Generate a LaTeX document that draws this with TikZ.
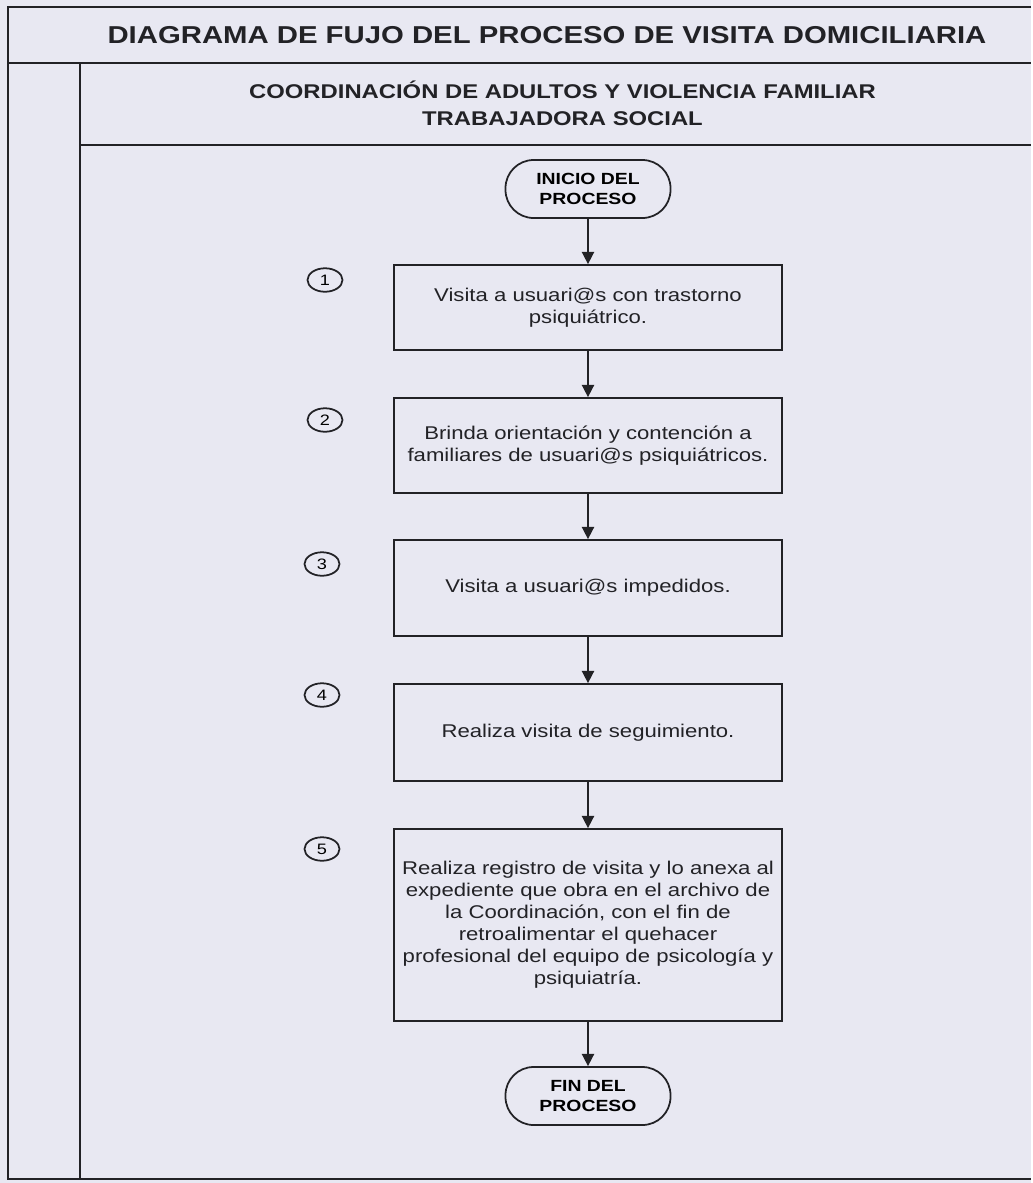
\documentclass[tikz,border=0pt]{standalone}
\usepackage{fontspec}
\setmainfont[FakeStretch=1.2]{Liberation Sans}
\usepackage{xcolor}
\usetikzlibrary{arrows.meta, shapes.geometric}
\definecolor{paperbg}{HTML}{E8E8F2}
\definecolor{inkdark}{HTML}{222226}

\begin{document}
\begin{tikzpicture}[
    frameline/.style={line width=1.4pt, inkdark},
    stepbox/.style={draw=inkdark, line width=1pt, minimum width=7.76cm, align=center,
                    font=\fontsize{10.5}{12.5}\selectfont, text=inkdark, inner sep=2pt},
    terminal/.style={draw=inkdark, line width=1pt, rounded corners=16pt, minimum width=3.3cm,
                     minimum height=1.16cm, align=center, font=\fontsize{9.2}{11.4}\selectfont\bfseries},
    stepnum/.style={draw=inkdark, line width=1pt, ellipse, minimum width=0.7cm, minimum height=0.47cm,
                    inner sep=0pt, font=\fontsize{8.6}{9}\selectfont},
    flow/.style={line width=0.9pt, inkdark, -{Triangle[length=7pt, width=7pt]}},
  ]

  \def\mx{11.76}   % centre line of the flow

  % --- paper and frame ---
  \fill[paperbg] (0,0) rectangle (20.62,-23.66);
  \draw[frameline] (20.62,-0.14) -- (0.16,-0.14) -- (0.16,-23.58) -- (20.62,-23.58);
  \draw[frameline] (0.16,-1.26) -- (20.62,-1.26);
  \draw[frameline] (1.6,-1.26) -- (1.6,-23.58);
  \draw[frameline] (1.6,-2.9) -- (20.62,-2.9);

  % --- headings ---
  \node[font=\fontsize{13.9}{16}\selectfont\bfseries, text=inkdark] (title) at (10.94,-0.71)
    {DIAGRAMA DE FUJO DEL PROCESO DE VISITA DOMICILIARIA};
  \node[font=\fontsize{11.3}{15.4}\selectfont\bfseries, text=inkdark, align=center] (area) at (11.25,-2.06)
    {COORDINACIÓN DE ADULTOS Y VIOLENCIA FAMILIAR\\TRABAJADORA SOCIAL};

  % --- process ---
  \node[terminal] (inicio) at (\mx,-3.78) {INICIO DEL\\PROCESO};
  \node[stepbox, minimum height=1.7cm]  (s1) at (\mx,-6.15)
    {Visita a usuari@s con trastorno\\psiquiátrico.};
  \node[stepbox, minimum height=1.9cm]  (s2) at (\mx,-8.91)
    {Brinda orientación y contención a\\familiares de usuari@s psiquiátricos.};
  \node[stepbox, minimum height=1.92cm] (s3) at (\mx,-11.76)
    {Visita a usuari@s impedidos.};
  \node[stepbox, minimum height=1.94cm] (s4) at (\mx,-14.65)
    {Realiza visita de seguimiento.};
  \node[stepbox, minimum height=3.84cm] (s5) at (\mx,-18.5)
    {Realiza registro de visita y lo anexa al\\expediente que obra en el archivo de\\la Coordinación, con el fin de\\retroalimentar el quehacer\\profesional del equipo de psicología y\\psiquiatría.};
  \node[terminal] (fin) at (\mx,-21.92) {FIN DEL\\PROCESO};

  % step numbers
  \node[stepnum] (n1) at (6.5,-5.6) {1};
  \node[stepnum] (n2) at (6.5,-8.4) {2};
  \node[stepnum] (n3) at (6.44,-11.28) {3};
  \node[stepnum] (n4) at (6.44,-13.9) {4};
  \node[stepnum] (n5) at (6.44,-16.98) {5};

  % arrows
  \draw[flow] (inicio) -- (s1);
  \draw[flow] (s1) -- (s2);
  \draw[flow] (s2) -- (s3);
  \draw[flow] (s3) -- (s4);
  \draw[flow] (s4) -- (s5);
  \draw[flow] (s5) -- (fin);

\end{tikzpicture}
\end{document}
